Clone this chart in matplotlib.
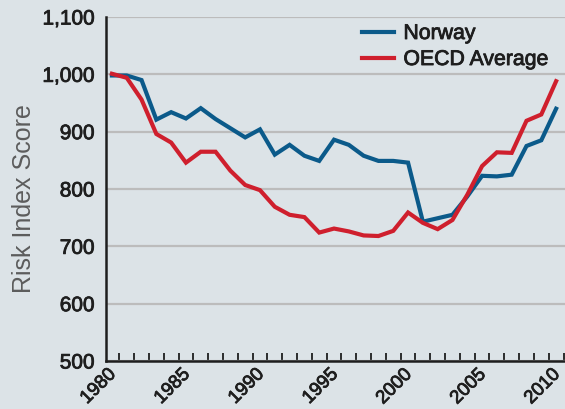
import matplotlib
matplotlib.use("Agg")
import matplotlib.pyplot as plt
import matplotlib.patheffects as pe
from matplotlib.transforms import ScaledTranslation
from matplotlib.ticker import FixedLocator, FuncFormatter

years = list(range(1980, 2011))
norway = [998, 998, 990, 921, 934, 923, 941, 922, 906, 890, 904,
          860, 877, 858, 849, 886, 877, 858, 849, 849, 846,
          743, 749, 755, 787, 823, 822, 825, 875, 885, 940]
oecd = [1001, 994, 956, 896, 881, 846, 865, 865, 832, 807, 798,
        769, 755, 751, 724, 731, 726, 719, 718, 727, 759,
        741, 730, 746, 790, 840, 864, 863, 919, 930, 988]
label_years = [1980, 1985, 1990, 1995, 2000, 2005, 2010]
y_ticks = [500, 600, 700, 800, 900, 1000, 1100]

bg = "#dce3e7"
blue = "#0b5a8a"
red = "#cf1f2d"
txt = "#1e1e1e"
bold = [pe.withStroke(linewidth=0.6, foreground=txt)]

plt.rcParams['font.family'] = ['Liberation Sans', 'DejaVu Sans']

W, H = 565, 409
fig = plt.figure(figsize=(W / 100, H / 100), dpi=100, facecolor=bg)
ax = fig.add_axes([106 / W, (H - 361) / H, (W - 106) / W, (361 - 17) / H])
ax.set_facecolor(bg)

ax.plot(years, norway, color=blue, lw=3.0, solid_joinstyle='miter', label='Norway', zorder=3)
ax.plot(years, oecd, color=red, lw=3.0, solid_joinstyle='miter', label='OECD Average', zorder=3)

ax.set_xlim(1979.6, 2010.6)
ax.set_ylim(500, 1100)

ax.yaxis.set_major_locator(FixedLocator(y_ticks))
ax.yaxis.set_major_formatter(FuncFormatter(lambda v, p: f"{int(v):,}"))
ax.grid(axis='y', color='#bcbcbc', lw=1.6, zorder=1)
ax.tick_params(axis='y', length=0, pad=8, labelsize=15, labelcolor=txt)
for lab in ax.get_yticklabels():
    lab.set_path_effects(bold)

ax.xaxis.set_major_locator(FixedLocator([y + 0.5 for y in label_years]))
ax.xaxis.set_minor_locator(FixedLocator([y + 0.5 for y in years]))
ax.set_xticklabels([str(y) for y in label_years])
ax.tick_params(axis='x', which='both', direction='in', length=6, width=1.3, color=txt)
ax.tick_params(axis='x', which='major', labelsize=13.5, labelcolor=txt, pad=2)
off = ScaledTranslation(-12 / 100, -2 / 100, fig.dpi_scale_trans)
for lab in ax.get_xticklabels():
    lab.set_rotation(45)
    lab.set_ha('right')
    lab.set_va('top')
    lab.set_rotation_mode('anchor')
    lab.set_transform(lab.get_transform() + off)
    lab.set_path_effects(bold)

for s in ['top', 'right']:
    ax.spines[s].set_visible(False)
for s in ['left', 'bottom']:
    ax.spines[s].set_linewidth(1.8)
    ax.spines[s].set_color(txt)

ax.set_ylabel('Risk Index Score', fontsize=18, color='#5c5c5c')
ax.yaxis.set_label_coords((36 - 106) / 459, (361 - 199) / 344)

leg = ax.legend(loc='upper left', bbox_to_anchor=(362 / W, 1 - 24 / H),
                bbox_transform=fig.transFigure, frameon=False, fontsize=15.3,
                handlelength=1.5, handletextpad=0.45, labelspacing=0.33,
                borderpad=0, borderaxespad=0)
for t in leg.get_texts():
    t.set_color(txt)
    t.set_path_effects(bold)
for l in leg.get_lines():
    l.set_linewidth(3.0)

fig.savefig('out.png', dpi=100, facecolor=bg)
